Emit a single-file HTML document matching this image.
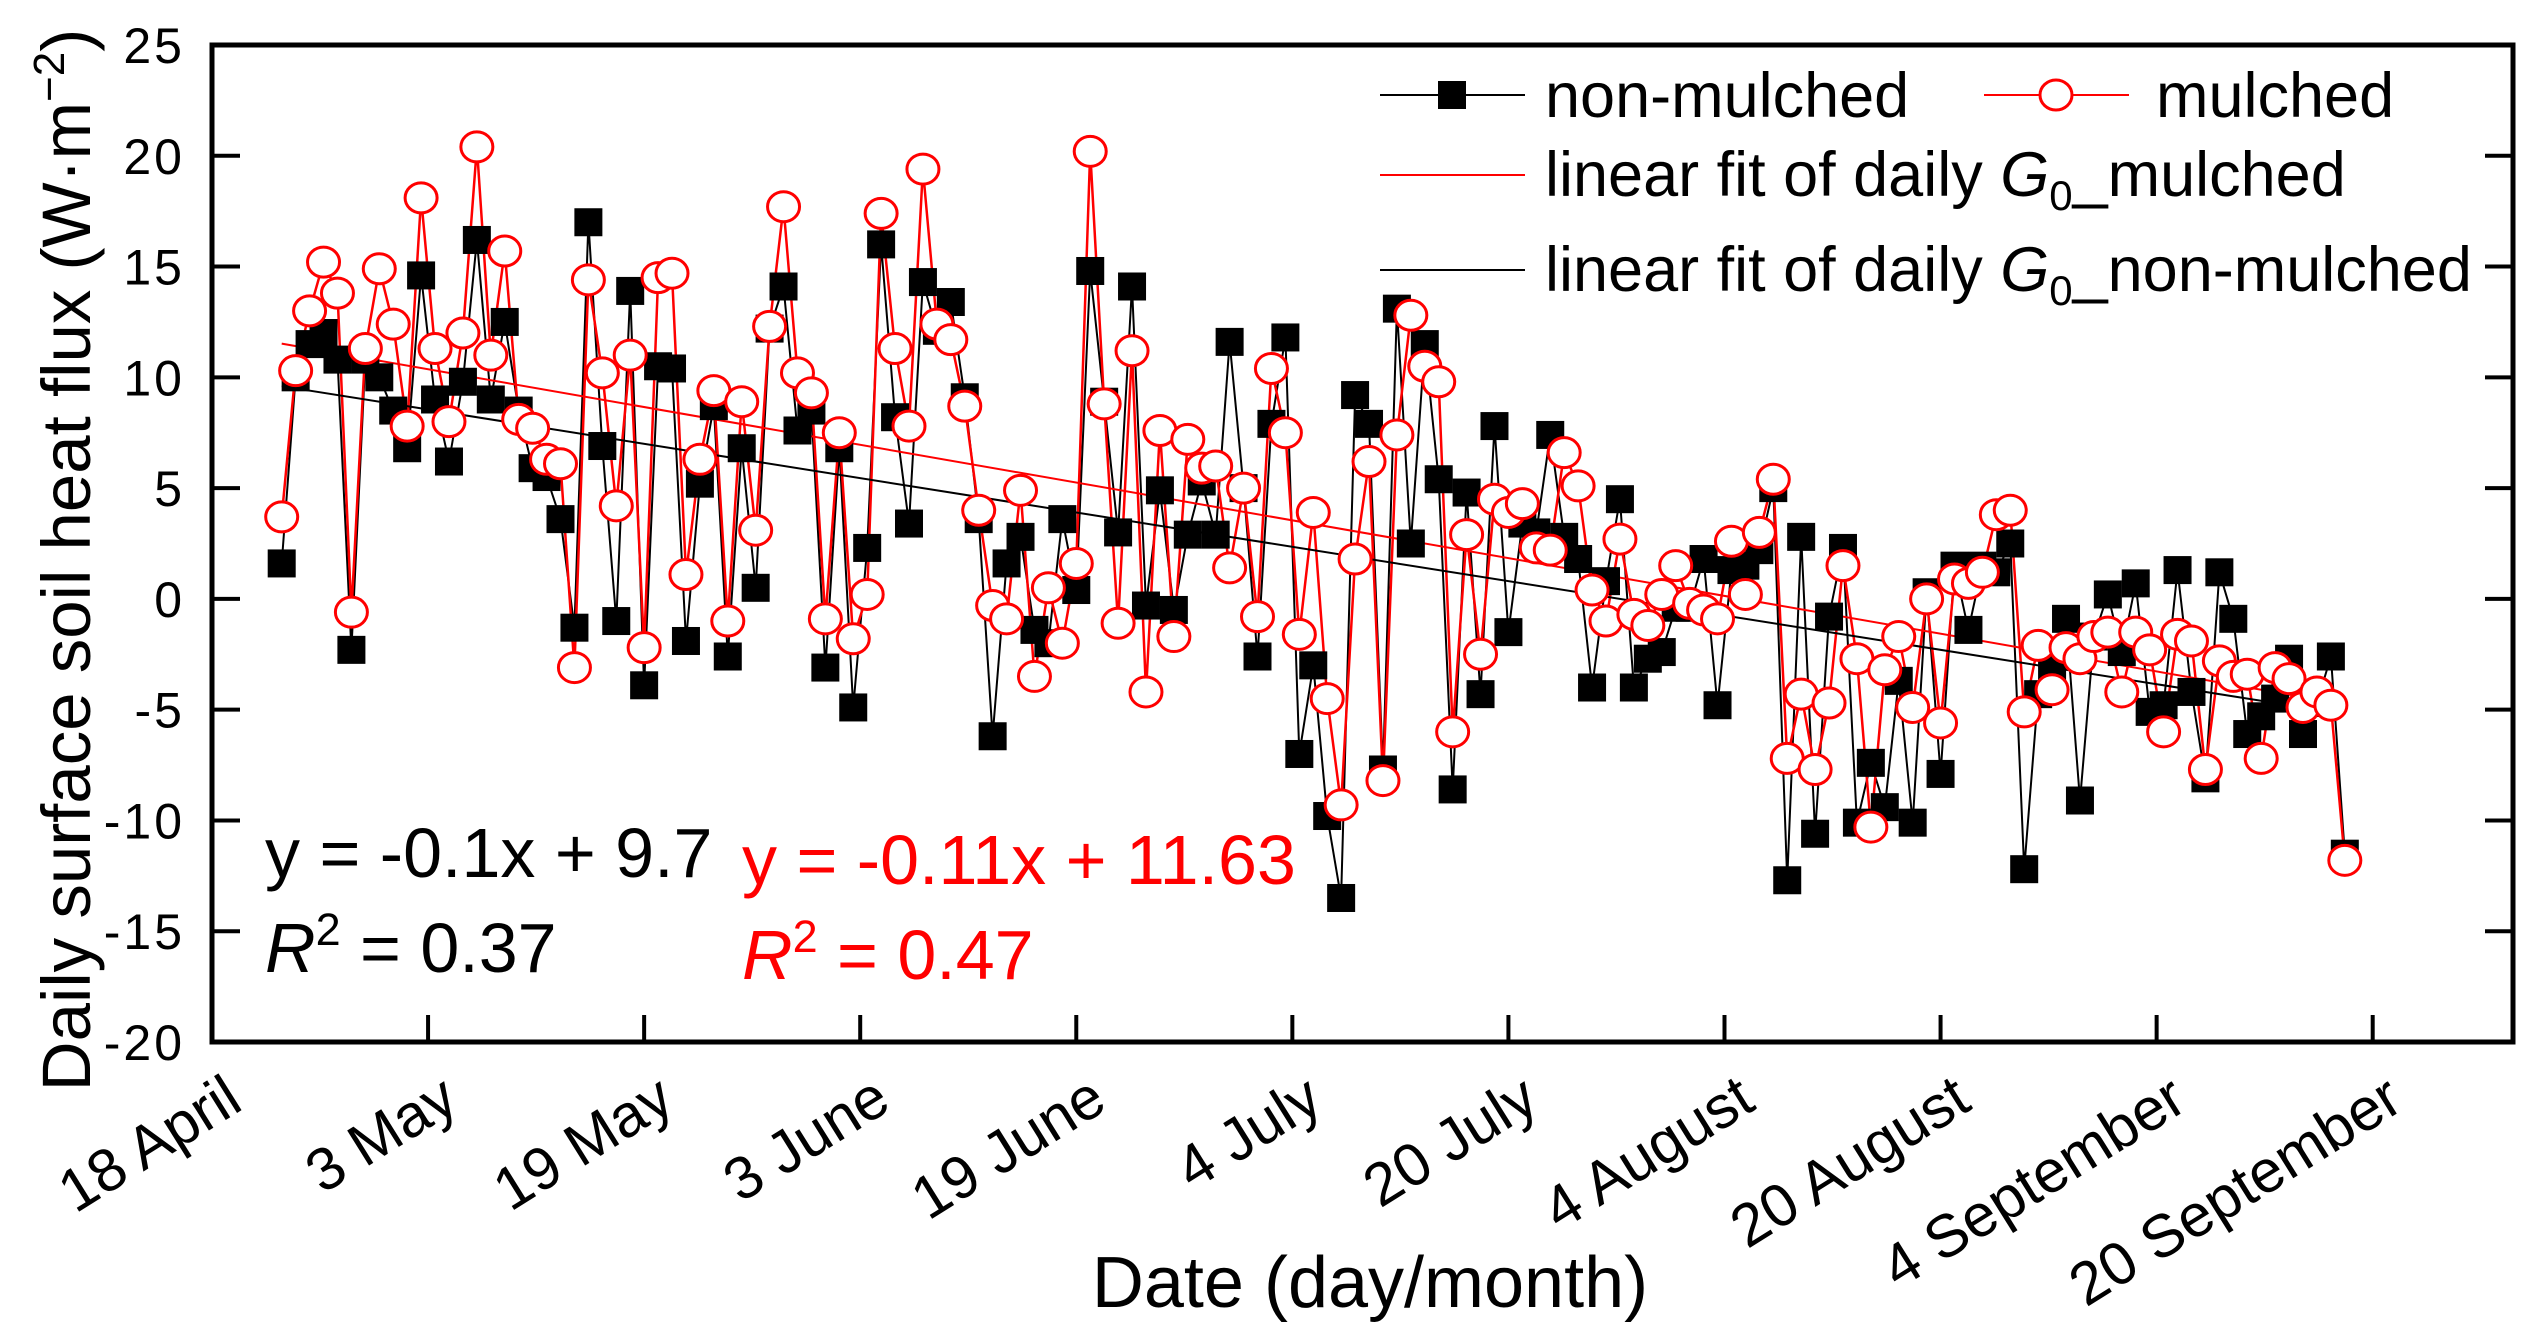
<!DOCTYPE html>
<html>
<head>
<meta charset="utf-8">
<style>
  html, body { margin: 0; padding: 0; background: #fff; }
  svg { display: block; font-family: "Liberation Sans", Arial, sans-serif; }
</style>
</head>
<body>
<svg id="chart" width="2540" height="1331" viewBox="0 0 2540 1331" xmlns="http://www.w3.org/2000/svg">
  <rect x="0" y="0" width="2540" height="1331" fill="#fff"/>
  <g id="lines"></g>
  <g id="fits"></g>
  <g id="marks"></g>
  <g id="axes"></g>
  <g id="legend">
    <line x1="1380" y1="95" x2="1525" y2="95" stroke="#000" stroke-width="2"/>
    <rect x="1438" y="81" width="28" height="28" fill="#000"/>
    <text x="1545" y="117" font-size="63">non-mulched</text>
    <line x1="1984" y1="95" x2="2129" y2="95" stroke="#f00" stroke-width="2"/>
    <ellipse cx="2056" cy="95" rx="16" ry="15" fill="#fff" stroke="#f00" stroke-width="3"/>
    <text x="2156" y="117" font-size="63">mulched</text>
    <line x1="1380" y1="175" x2="1525" y2="175" stroke="#f00" stroke-width="2"/>
    <text x="1545" y="196" font-size="63">linear fit of daily <tspan font-style="italic">G</tspan><tspan font-size="42" dy="14">0</tspan><tspan dy="-14">_mulched</tspan></text>
    <line x1="1380" y1="270" x2="1525" y2="270" stroke="#000" stroke-width="2"/>
    <text x="1545" y="291" font-size="63">linear fit of daily <tspan font-style="italic">G</tspan><tspan font-size="42" dy="14">0</tspan><tspan dy="-14">_non-mulched</tspan></text>
  </g>
  <g id="equations">
    <text x="265" y="877" font-size="70" fill="#000">y = -0.1x + 9.7</text>
    <text x="265" y="972" font-size="70" fill="#000"><tspan font-style="italic">R</tspan><tspan font-size="45" dy="-27">2</tspan><tspan dy="27"> = 0.37</tspan></text>
    <text x="742" y="884" font-size="70" fill="#f00">y = -0.11x + 11.63</text>
    <text x="742" y="979" font-size="70" fill="#f00"><tspan font-style="italic">R</tspan><tspan font-size="45" dy="-27">2</tspan><tspan dy="27"> = 0.47</tspan></text>
  </g>
  <text x="1370" y="1307" font-size="72" text-anchor="middle">Date (day/month)</text>
  <text transform="translate(90,560) rotate(-90)" font-size="69" text-anchor="middle">Daily surface soil heat flux (W·m<tspan font-size="44" dy="-26">−2</tspan><tspan dy="26">)</tspan></text>
</svg>
<script>
// ---- data ----
const startDay = 5;
const nonMulched = [1.6,10,11.5,12,10.8,-2.3,10.8,10,8.5,6.8,14.6,9,6.2,9.8,16.2,9,12.5,8.5,5.9,5.5,3.6,-1.3,17,6.9,-1,13.9,-3.9,10.5,10.4,-1.9,5.2,8.7,-2.6,6.8,0.5,12.2,14.1,7.6,8.5,-3.1,6.8,-4.9,2.3,16,8.2,3.4,14.3,12.1,13.4,9.1,3.6,-6.2,1.6,2.8,-1.4,-2,3.6,0.4,14.8,8.9,3,14.1,-0.3,4.9,-0.5,2.9,5.3,2.9,11.6,5,-2.6,7.9,11.8,-7,-3,-9.8,-13.5,9.2,7.9,-7.7,13.1,2.5,11.5,5.4,-8.6,4.8,-4.3,7.8,-1.5,3.4,3,7.4,2.8,1.8,-4,0.8,4.5,-4,-2.7,-2.4,-0.4,-0.4,1.8,-4.8,1.3,1.5,2.2,5,-12.7,2.8,-10.6,-0.8,2.3,-10.1,-7.4,-9.4,-3.7,-10.1,0.3,-7.9,1.5,-1.4,1.5,1.2,2.5,-12.2,-4.3,-3.2,-0.9,-9.1,-1.7,0.2,-2.4,0.7,-5.1,-4.8,1.3,-4.2,-8.1,1.2,-0.9,-6.1,-5.3,-4.5,-2.7,-6.1,-4.7,-2.6,-11.5];
const mulched = [3.7,10.3,13,15.2,13.8,-0.6,11.3,14.9,12.4,7.8,18.1,11.3,8,12,20.4,11,15.7,8.1,7.7,6.3,6.1,-3.1,14.4,10.2,4.2,11,-2.2,14.5,14.7,1.1,6.3,9.4,-1,8.9,3.1,12.3,17.7,10.2,9.3,-0.9,7.5,-1.8,0.2,17.4,11.3,7.8,19.4,12.4,11.7,8.7,4,-0.3,-0.9,4.9,-3.5,0.5,-2,1.6,20.2,8.8,-1.1,11.2,-4.2,7.6,-1.7,7.2,5.9,6,1.4,5,-0.8,10.4,7.5,-1.6,3.9,-4.5,-9.3,1.8,6.2,-8.2,7.4,12.8,10.5,9.8,-6,2.9,-2.5,4.5,3.9,4.3,2.3,2.2,6.6,5.1,0.4,-1,2.7,-0.7,-1.2,0.2,1.5,-0.2,-0.5,-0.9,2.6,0.2,3,5.4,-7.2,-4.3,-7.7,-4.7,1.5,-2.7,-10.3,-3.2,-1.7,-4.9,0,-5.6,0.9,0.7,1.2,3.8,4,-5.1,-2.1,-4.1,-2.2,-2.7,-1.7,-1.5,-4.2,-1.5,-2.3,-6,-1.6,-1.9,-7.7,-2.8,-3.5,-3.4,-7.2,-3.1,-3.6,-4.9,-4.2,-4.8,-11.8];
const fitMulched = [-0.11, 11.63];
const fitNonMulched = [-0.1, 9.7];
const yTicks = [25,20,15,10,5,0,-5,-10,-15,-20];
const xTickDays = [0,15.5,31,46.5,62,77.5,93,108.5,124,139.5,155];
const xTickLabels = ["18 April","3 May","19 May","3 June","19 June","4 July","20 July","4 August","20 August","4 September","20 September"];

// ---- scales ----
const L = 212, R = 2513, T = 45, B = 1042;
function xs(day) { return L + day * 13.94; }
function ys(v) { return T + (25 - v) * (B - T) / 45; }
const NS = "http://www.w3.org/2000/svg";
function mk(tag, attrs, parent) {
  const e = document.createElementNS(NS, tag);
  for (const k in attrs) e.setAttribute(k, attrs[k]);
  parent.appendChild(e);
  return e;
}
const gLines = document.getElementById('lines');
const gFits = document.getElementById('fits');
const gMarks = document.getElementById('marks');
const gAxes = document.getElementById('axes');

function pts(arr) { return arr.map((v, i) => xs(startDay + i).toFixed(1) + ',' + ys(v).toFixed(1)).join(' '); }
const lb = mk('polyline', {points: pts(nonMulched), fill: 'none', stroke: '#000', 'stroke-width': 2}, gLines);


const lr = mk('polyline', {points: pts(mulched), fill: 'none', stroke: '#f00', 'stroke-width': 2.5}, gLines);



function fitLine(f, n, color, name) {
  const y1 = f[0] * 1 + f[1], y2 = f[0] * n + f[1];
  const l = mk('line', {x1: xs(startDay), y1: ys(y1), x2: xs(startDay + n - 1), y2: ys(y2), stroke: color, 'stroke-width': 2}, gFits);
  
  
}
fitLine(fitNonMulched, nonMulched.length, '#000', 'fit-line-non-mulched');
fitLine(fitMulched, mulched.length, '#f00', 'fit-line-mulched');

nonMulched.forEach((v, i) => {
  const r = mk('rect', {x: xs(startDay + i) - 14, y: ys(v) - 14, width: 28, height: 28, fill: '#000'}, gMarks);
  
  
});
mulched.forEach((v, i) => {
  const c = mk('ellipse', {cx: xs(startDay + i), cy: ys(v), rx: 16, ry: 15, fill: '#fff', stroke: '#f00', 'stroke-width': 3}, gMarks);
  
  
});

const fr = mk('rect', {x: L, y: T, width: R - L, height: B - T, fill: 'none', stroke: '#000', 'stroke-width': 5}, gAxes);


yTicks.forEach(v => {
  const y = ys(v);
  const t1 = mk('line', {x1: L, y1: y, x2: L + 28, y2: y, stroke: '#000', 'stroke-width': 4}, gAxes);
  
  
  const t2 = mk('line', {x1: R, y1: y, x2: R - 28, y2: y, stroke: '#000', 'stroke-width': 4}, gAxes);
  
  
  const lab = mk('text', {x: 185, y: y + 18, 'font-size': 50, 'text-anchor': 'end', 'letter-spacing': 3}, gAxes);
  lab.textContent = String(v);
  
  
});
xTickDays.forEach((d, i) => {
  const x = xs(d);
  if (i > 0) {
    const t = mk('line', {x1: x, y1: B, x2: x, y2: B - 27, stroke: '#000', 'stroke-width': 4}, gAxes);
    
    
  }
  const ax = x + 33, ay = 1108;
  const lab = mk('text', {x: ax, y: ay, 'font-size': 60, 'text-anchor': 'end', transform: 'rotate(-32 ' + ax + ' ' + ay + ')'}, gAxes);
  lab.textContent = xTickLabels[i];
  
  
});
</script>
</body>
</html>
